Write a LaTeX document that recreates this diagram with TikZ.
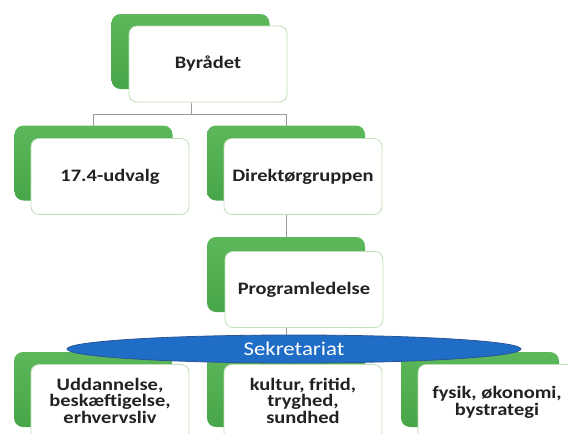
\documentclass[tikz,border=0pt]{standalone}
\usepackage{fontspec}
\setmainfont{Carlito}[FakeStretch=1.17]
\usetikzlibrary{shapes.geometric}
\pgfdeclarelayer{bg}
\pgfsetlayers{bg,main}
\definecolor{gtop}{HTML}{5CB85A}
\definecolor{gbot}{HTML}{47A649}
\definecolor{fborder}{HTML}{C2DDBA}
\definecolor{lineg}{HTML}{9A9A9A}
\definecolor{blueE}{HTML}{1F6DC6}
\definecolor{blueB}{HTML}{2A5596}
\definecolor{txt}{HTML}{222222}
\begin{document}
\begin{tikzpicture}[x=1pt,y=-1pt,
  back/.style={rounded corners=9pt, minimum width=158pt, minimum height=75pt,
    top color=gtop, bottom color=gbot, draw=none, inner sep=0pt},
  front/.style={rounded corners=8pt, minimum width=158pt, minimum height=76pt,
    fill=white, draw=fborder, line width=0.8pt, align=center, text=txt,
    font=\fontsize{17.5}{16.5}\selectfont\bfseries, inner sep=0pt},
  sekr/.style={ellipse, minimum width=454pt, minimum height=28pt, inner sep=0pt,
    fill=blueE, draw=blueB, line width=0.8pt, text=white,
    font=\fontsize{19.5}{20}\selectfont},
  conn/.style={draw=lineg, line width=0.8pt}]
\useasboundingbox (0,0) rectangle (568,434);
\clip (0,0) rectangle (568,434);
% top levels
\node[back] (b0) at (190.5,51.5) {};
\node[front] (f0) at (208,64) {Byrådet};
\node[back] (b1) at (93.5,163) {};
\node[front] (f1) at (110,176.5) {17.4-udvalg};
\node[back] (b2) at (286,163) {};
\node[front] (f2) at (303,176.5) {Direktørgruppen};
\node[back] (b3) at (286,274.5) {};
\node[front] (f3) at (304,289.5) {Programledelse};
% bottom row
\node[back] (b4) at (93,389.5) {};
\node[back] (b5) at (286,389.5) {};
\node[back] (b6) at (480,389.5) {};
\node[sekr] (sek) at (294,349) {Sekretariat};
\node[front, text depth=4pt] (f4) at (110,402.5) {Uddannelse,\\beskæftigelse,\\erhvervsliv};
\node[front, text depth=4pt] (f5) at (303,402.5) {kultur, fritid,\\tryghed,\\sundhed};
\node[front, text depth=3pt] (f6) at (497,402.5) {fysik, økonomi,\\bystrategi};
% connectors
\begin{pgfonlayer}{bg}
\coordinate (split) at (191.5,114);
\draw[conn] (b0.center) -- (split);
\draw[conn] (split) -| (b1.center);
\draw[conn] (split) -| (b2.center);
\draw[conn] (b2.center) -- (b3.center);
\draw[conn] (b3.center) -- (b3.center |- sek.center);
\end{pgfonlayer}
\end{tikzpicture}
\end{document}
